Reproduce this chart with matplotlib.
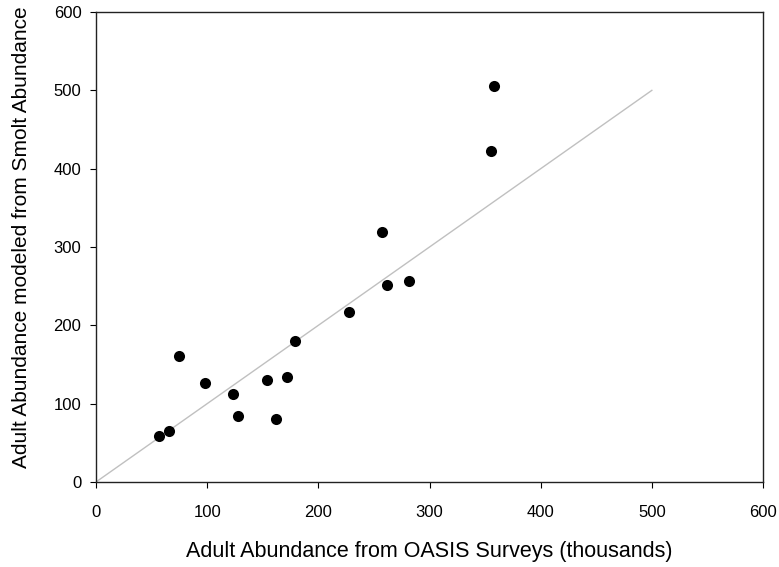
import matplotlib
matplotlib.use("Agg")
import matplotlib.pyplot as plt

plt.rcParams['font.family'] = ['Liberation Sans', 'DejaVu Sans']

# OASIS survey estimates vs. smolt-based model (thousands)
oasis = [57, 66, 75, 98, 123, 128, 154, 162, 172, 179, 228, 257, 262, 282, 355, 358]
modeled = [59, 65, 161, 126, 112, 84, 130, 81, 134, 180, 217, 319, 252, 257, 423, 505]

one_to_one = [0, 500]

ticks = [0, 100, 200, 300, 400, 500, 600]

fig = plt.figure(figsize=(7.79, 5.67), dpi=100)
ax = fig.add_axes([0.1232, 0.1499, 0.8563, 0.8289])

ax.plot(one_to_one, one_to_one, color='#c0c0c0', lw=1.0, zorder=1)
ax.scatter(oasis, modeled, s=64, color='black', zorder=2, linewidths=0)

ax.set_xlim(0, 600)
ax.set_ylim(0, 600)
ax.set_xticks(ticks)
ax.set_yticks(ticks)
ax.tick_params(direction='out', length=4.5, width=0.8, labelsize=12, colors='black')
ax.tick_params(axis='x', pad=12)
ax.tick_params(axis='y', pad=6)
for sp in ax.spines.values():
    sp.set_linewidth(1.0)
    sp.set_color('#222222')

ax.set_xlabel('Adult Abundance from OASIS Surveys (thousands)', fontsize=15.5)
ax.set_ylabel('Adult Abundance modeled from Smolt Abundance', fontsize=15)
ax.xaxis.set_label_coords(0.5, -0.125)
ax.yaxis.set_label_coords(-0.097, 0.52)

fig.savefig('out.png', dpi=100)
